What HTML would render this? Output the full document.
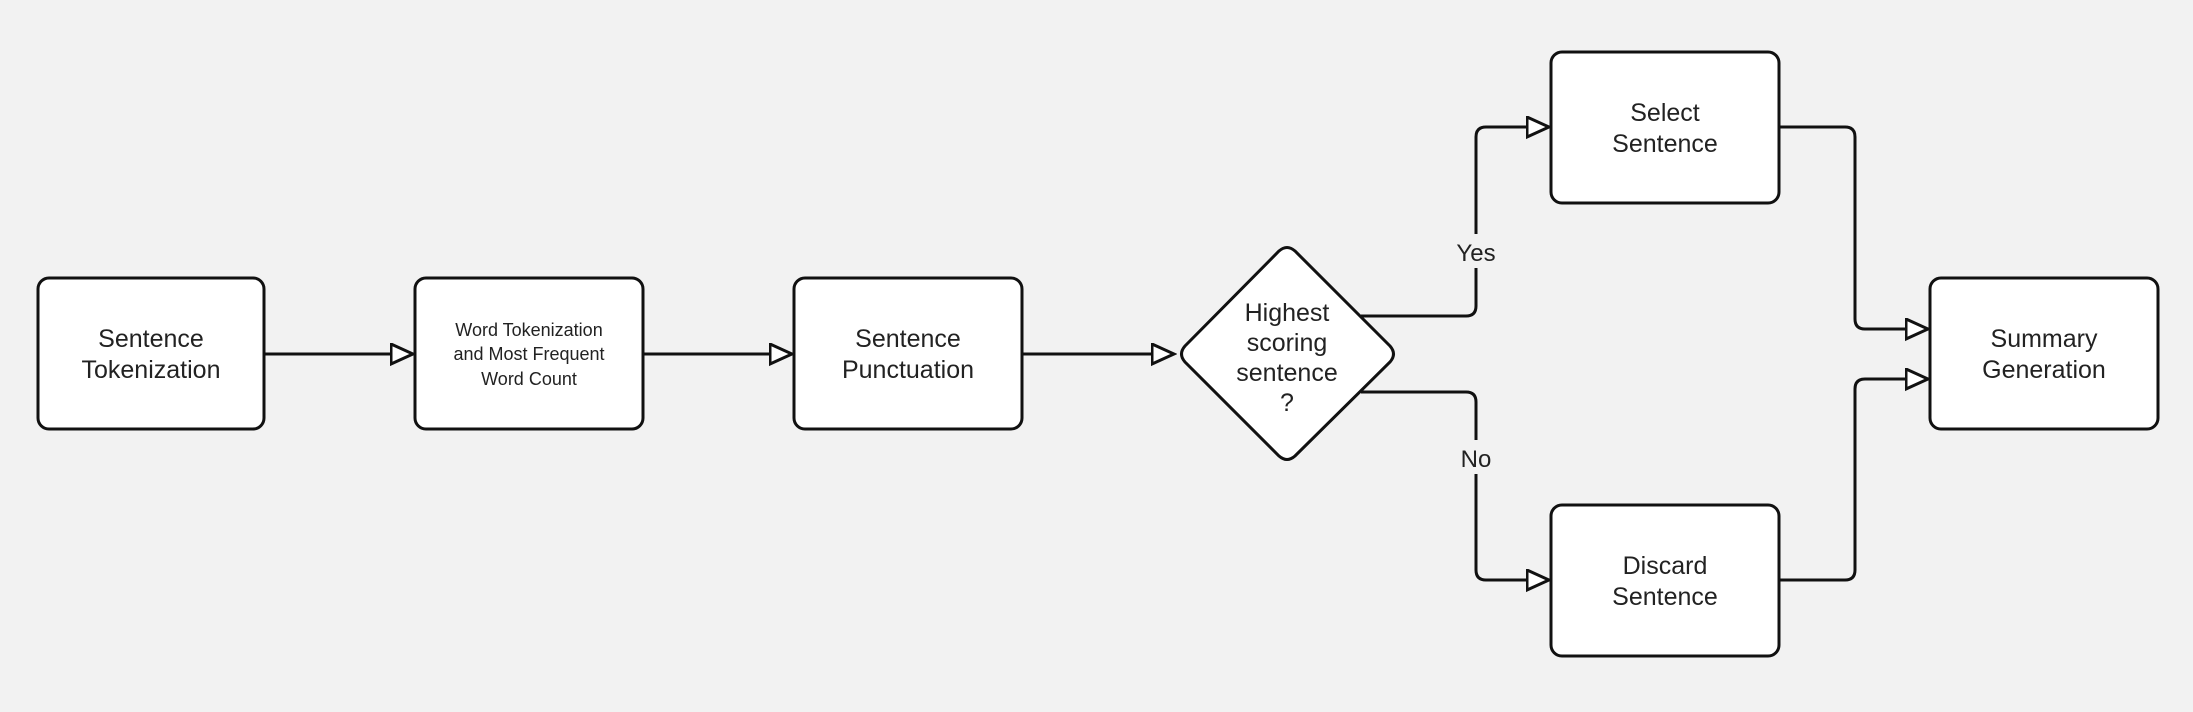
<!DOCTYPE html>
<html><head><meta charset="utf-8"><style>
html,body{margin:0;padding:0;background:#f2f2f2;}
svg{display:block;}
text{font-family:"Liberation Sans",sans-serif;fill:#222;text-anchor:middle;}
</style></head><body>
<svg width="2193" height="712" viewBox="0 0 2193 712" xmlns="http://www.w3.org/2000/svg">
<defs>
<marker id="a" markerWidth="26" markerHeight="24" refX="23" refY="11" orient="auto" markerUnits="userSpaceOnUse">
<path d="M1,1 L23,11 L1,21 Z" fill="#fff" stroke="#111" stroke-width="3"/>
</marker>
</defs>
<g fill="none" stroke="#111" stroke-width="3">
<path d="M264,354 H413" marker-end="url(#a)"/>
<path d="M643,354 H792" marker-end="url(#a)"/>
<path d="M1022,354 H1174" marker-end="url(#a)"/>
<path d="M1361,316 H1466 Q1476,316 1476,306 V137 Q1476,127 1486,127 H1549" marker-end="url(#a)"/>
<path d="M1361,392 H1466 Q1476,392 1476,402 V570 Q1476,580 1486,580 H1549" marker-end="url(#a)"/>
<path d="M1779,127 H1845 Q1855,127 1855,137 V319 Q1855,329 1865,329 H1928" marker-end="url(#a)"/>
<path d="M1779,580 H1845 Q1855,580 1855,570 V389 Q1855,379 1865,379 H1928" marker-end="url(#a)"/>
</g>
<rect x="1455" y="234" width="42" height="34" fill="#f2f2f2"/>
<rect x="1455" y="440" width="42" height="34" fill="#f2f2f2"/>
<text x="1476" y="261" font-size="24">Yes</text>
<text x="1476" y="467" font-size="24">No</text>
<g fill="#fff" stroke="#111" stroke-width="3">
<rect x="38" y="278" width="226" height="151" rx="11"/>
<rect x="415" y="278" width="228" height="151" rx="11"/>
<rect x="794" y="278" width="228" height="151" rx="11"/>
<rect x="1551" y="52" width="228" height="151" rx="11"/>
<rect x="1551" y="505" width="228" height="151" rx="11"/>
<rect x="1930" y="278" width="228" height="151" rx="11"/>
<path d="M1279,251 Q1287,244 1295,251 L1390,346 Q1397,354 1390,362 L1295,456 Q1287,463 1279,456 L1185,362 Q1178,354 1185,346 Z"/>
</g>
<g font-size="25">
<text x="151" y="347">Sentence</text><text x="151" y="378">Tokenization</text>
<text x="908" y="347">Sentence</text><text x="908" y="378">Punctuation</text>
<text x="1665" y="121">Select</text><text x="1665" y="152">Sentence</text>
<text x="1665" y="574">Discard</text><text x="1665" y="605">Sentence</text>
<text x="2044" y="347">Summary</text><text x="2044" y="378">Generation</text>
<text x="1287" y="321">Highest</text><text x="1287" y="351">scoring</text>
<text x="1287" y="381">sentence</text><text x="1287" y="411">?</text>
</g>
<g font-size="18">
<text x="529" y="336">Word Tokenization</text>
<text x="529" y="360">and Most Frequent</text>
<text x="529" y="385">Word Count</text>
</g>
</svg>
</body></html>
